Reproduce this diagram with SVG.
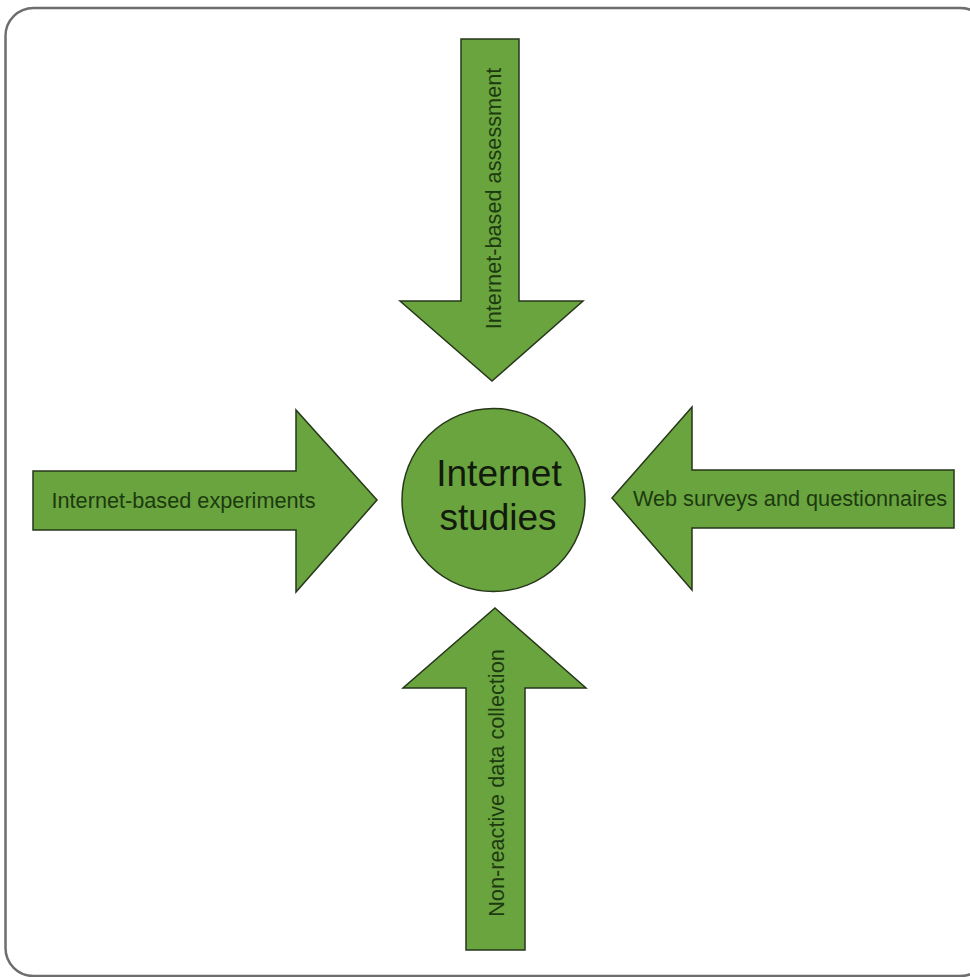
<svg xmlns="http://www.w3.org/2000/svg" width="970" height="977" viewBox="0 0 970 977">
<style>
.arrow{fill:#6aa43e;stroke:#26361a;stroke-width:1.5;stroke-linejoin:miter}
.lbl{font-family:"Liberation Sans",Arial,sans-serif;font-size:21.7px;fill:#1c3a10;text-anchor:middle;dominant-baseline:central}
.big{font-family:"Liberation Sans",Arial,sans-serif;font-size:37px;fill:#111a0c;text-anchor:middle}
</style>
<rect width="970" height="977" fill="#ffffff"/>
<rect id="frame" x="5.5" y="8" width="983" height="968" rx="28" ry="28" fill="none" stroke="#6e6e6e" stroke-width="2.5"/>
<g id="connectors">
<g id="arrow-top">
<polygon class="arrow" points="461,39 519,39 519,301 583,301 492,381 400,301 461,301"/>
<text class="lbl" transform="translate(493,198.5) rotate(-90)">Internet-based assessment</text>
</g>
<g id="arrow-left">
<polygon class="arrow" points="33,471 296,471 296,410 377,500 296,592 296,530 33,530"/>
<text class="lbl" x="183.5" y="500">Internet-based experiments</text>
</g>
<g id="arrow-right">
<polygon class="arrow" points="954,470 692,470 692,407 612,498 692,590 692,528 954,528"/>
<text class="lbl" x="790" y="498">Web surveys and questionnaires</text>
</g>
<g id="arrow-bottom">
<polygon class="arrow" points="466,950 525,950 525,688 586,688 495,608 403,688 466,688"/>
<text class="lbl" transform="translate(496,783) rotate(-90)">Non-reactive data collection</text>
</g>
</g>
<g id="node-internet-studies">
<circle cx="493.5" cy="500" r="91.5" fill="#6aa43e" stroke="#26361a" stroke-width="1.5"/>
<text class="big" x="499" y="486">Internet</text>
<text class="big" x="498" y="530">studies</text>
</g>
</svg>
